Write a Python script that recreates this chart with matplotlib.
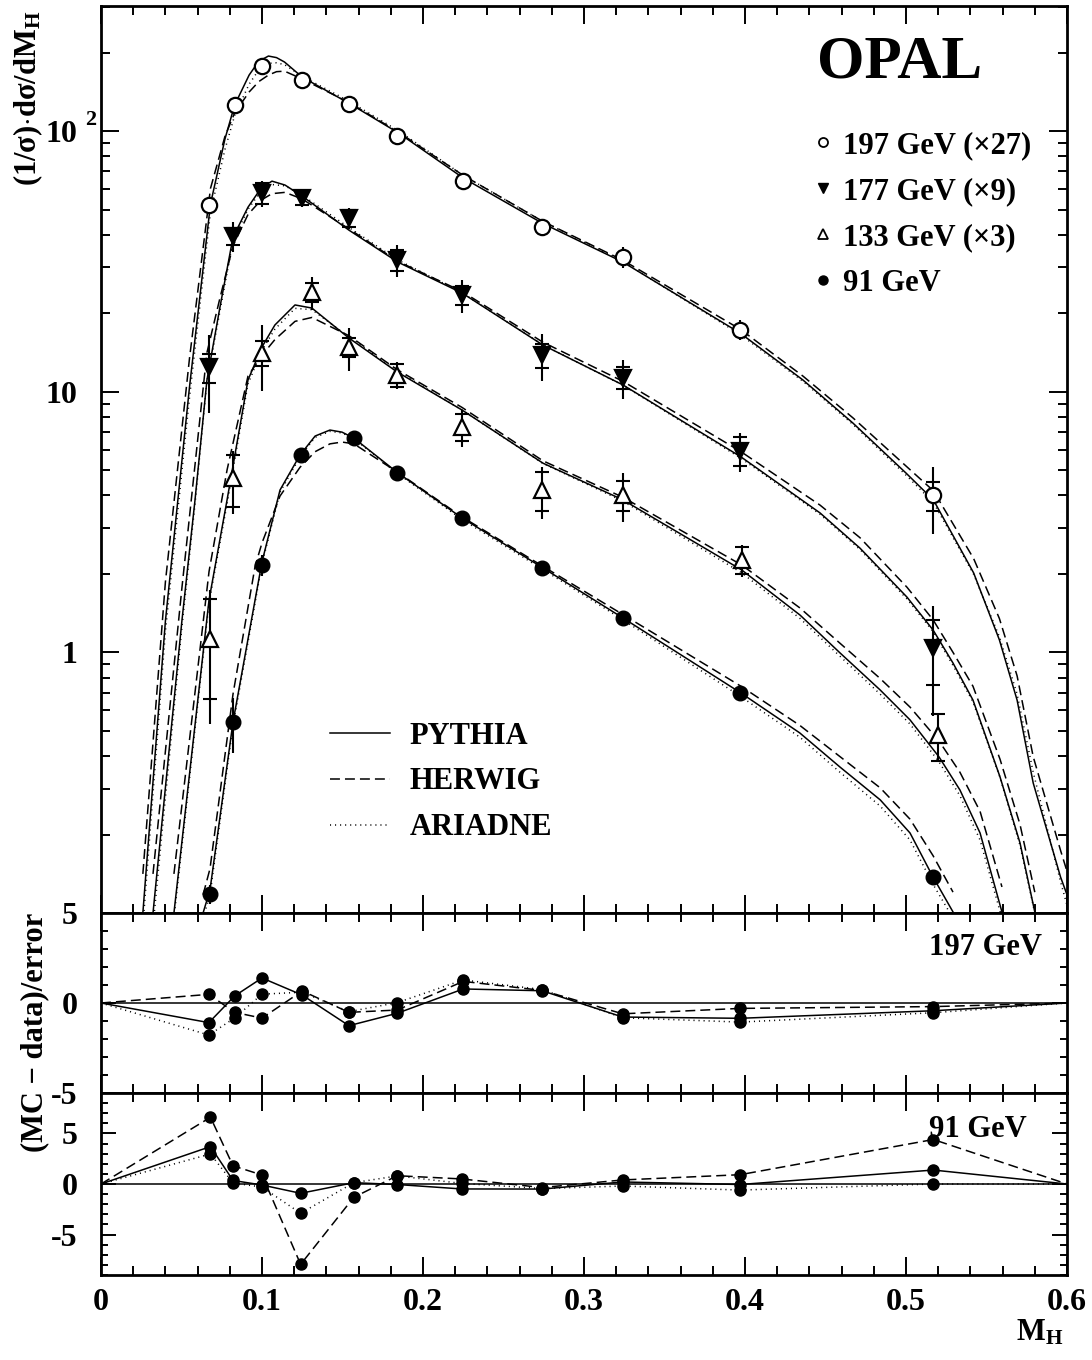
import numpy as np
import matplotlib
matplotlib.use("Agg")
import matplotlib.pyplot as plt
from matplotlib.lines import Line2D
from matplotlib.ticker import FixedLocator, FixedFormatter, MultipleLocator, LogLocator, NullFormatter

plt.rcParams.update({
    "font.family": "Liberation Serif",
    "font.weight": "bold",
    "mathtext.fontset": "custom",
    "mathtext.rm": "Liberation Serif:bold",
    "mathtext.bf": "Liberation Serif:bold",
    "mathtext.it": "Liberation Serif:italic:bold",
    "axes.linewidth": 2.0,
})

# ---- measured points (x = bin mean of M_H), scaled values as plotted ----
x197 = [0.067, 0.083, 0.100, 0.125, 0.154, 0.184, 0.225, 0.274, 0.324, 0.397, 0.517]
y197 = [52, 126, 177, 157, 127, 95.7, 64.3, 42.8, 32.9, 17.3, 4.0]
tot197 = [2.5, 5, 7, 6, 5, 4, 3, 2.5, 3.0, 1.5, 1.15]
stat197 = [1.5, 3, 4, 3, 2.5, 2, 1.5, 1.2, 1.0, 0.5, 0.52]

x177 = [0.067, 0.082, 0.100, 0.125, 0.154, 0.184, 0.224, 0.274, 0.324, 0.397, 0.517]
y177 = [12.4, 39.5, 57.8, 55.3, 46.4, 32.0, 23.5, 13.8, 11.3, 5.93, 1.04]
tot177 = [4.1, 5.2, 6.5, 4.0, 4.2, 4.4, 3.4, 2.8, 1.9, 1.0, 0.47]
stat177 = [1.6, 2.9, 5.5, 3.3, 3.6, 3.0, 1.9, 1.5, 1.1, 0.75, 0.29]

x133 = [0.068, 0.082, 0.100, 0.131, 0.154, 0.184, 0.224, 0.274, 0.324, 0.398, 0.520]
y133 = [1.13, 4.67, 14.1, 24.1, 14.8, 11.6, 7.33, 4.2, 4.02, 2.26, 0.482]
tot133 = [0.6, 1.26, 4.0, 3.5, 2.8, 1.4, 1.17, 0.95, 0.86, 0.32, 0.1]
stat133 = [0.47, 1.05, 1.6, 2.0, 1.25, 1.2, 0.85, 0.7, 0.54, 0.27, 0.1]

x91 = [0.068, 0.082, 0.100, 0.124, 0.157, 0.184, 0.224, 0.274, 0.324, 0.397, 0.517]
y91 = [0.118, 0.541, 2.16, 5.72, 6.64, 4.87, 3.28, 2.11, 1.36, 0.698, 0.137]
tot91 = [0.01, 0.13, 0.2, 0.15, 0.1, 0.08, 0.05, 0.03, 0.02, 0.01, 0.006]

# ---- MC predictions, log10 of the scaled value ----
mc197_x = [0.026, 0.040, 0.055, 0.068, 0.077, 0.083, 0.092, 0.098, 0.104, 0.109, 0.114, 0.125, 0.154, 0.185, 0.225,
           0.274, 0.324, 0.397, 0.436, 0.467, 0.500, 0.517, 0.542, 0.558, 0.569, 0.579, 0.596, 0.600]
py197 = [-1.00, 0.12, 1.02, 1.72, 1.97, 2.10, 2.215, 2.268, 2.288, 2.282, 2.265, 2.207, 2.107, 1.992, 1.820,
         1.647, 1.498, 1.225, 1.045, 0.880, 0.688, 0.585, 0.305, 0.048, -0.183, -0.501, -0.862, -0.93]
hw197 = [-0.85, 0.27, 1.13, 1.78, 1.98, 2.07, 2.15, 2.19, 2.215, 2.228, 2.23, 2.20, 2.11, 1.995, 1.83,
         1.655, 1.505, 1.24, 1.06, 0.90, 0.715, 0.62, 0.36, 0.13, -0.09, -0.40, -0.76, -0.84]
ar197 = [-1.05, 0.08, 0.98, 1.69, 1.93, 2.06, 2.18, 2.235, 2.26, 2.262, 2.255, 2.21, 2.115, 2.0, 1.83,
         1.655, 1.50, 1.22, 1.04, 0.875, 0.68, 0.575, 0.30, 0.06, -0.16, -0.46, -0.88, -0.97]

mc177_x = [0.0323, 0.0503, 0.0584, 0.0658, 0.0739, 0.082, 0.0913, 0.0994, 0.1062, 0.1143, 0.1248, 0.154, 0.1845,
           0.2242, 0.2745, 0.3242, 0.3975, 0.4466, 0.4714, 0.5006, 0.5168, 0.5292, 0.5416, 0.5584, 0.5708, 0.580]
py177 = [-1.0, 0.124, 0.585, 1.045, 1.325, 1.593, 1.708, 1.781, 1.808, 1.793, 1.751, 1.620, 1.497,
         1.379, 1.179, 1.026, 0.750, 0.535, 0.400, 0.212, 0.086, -0.041, -0.183, -0.478, -0.731, -0.996]
hw177 = [-0.85, 0.25, 0.72, 1.15, 1.36, 1.56, 1.68, 1.735, 1.76, 1.765, 1.74, 1.625, 1.50,
         1.385, 1.19, 1.04, 0.77, 0.565, 0.44, 0.25, 0.125, 0.0, -0.13, -0.41, -0.66, -0.92]
ar177 = [-1.05, 0.10, 0.57, 1.04, 1.31, 1.58, 1.70, 1.77, 1.795, 1.79, 1.755, 1.63, 1.505,
         1.38, 1.18, 1.025, 0.745, 0.53, 0.395, 0.205, 0.08, -0.05, -0.19, -0.48, -0.74, -1.0]

mc133_x = [0.0453, 0.0671, 0.0783, 0.0913, 0.1, 0.108, 0.1205, 0.131, 0.154, 0.1839, 0.2242,
           0.2745, 0.3242, 0.398, 0.4342, 0.459, 0.4839, 0.5025, 0.5205, 0.5335, 0.546, 0.5596]
py133 = [-1.0, 0.201, 0.585, 1.045, 1.172, 1.256, 1.333, 1.321, 1.206, 1.076, 0.930,
         0.726, 0.585, 0.316, 0.143, -0.002, -0.144, -0.259, -0.401, -0.528, -0.693, -0.996]
hw133 = [-0.85, 0.31, 0.70, 1.06, 1.14, 1.20, 1.27, 1.285, 1.215, 1.085, 0.94,
         0.735, 0.595, 0.335, 0.17, 0.035, -0.10, -0.21, -0.34, -0.46, -0.61, -0.90]
ar133 = [-1.02, 0.19, 0.57, 1.03, 1.16, 1.24, 1.32, 1.315, 1.21, 1.08, 0.93,
         0.725, 0.58, 0.305, 0.13, -0.015, -0.16, -0.275, -0.42, -0.55, -0.72, -1.02]

mc91_x = [0.0634, 0.0677, 0.082, 0.0957, 0.1, 0.1112, 0.1236, 0.133, 0.1422, 0.1497, 0.1571,
          0.1845, 0.2242, 0.2745, 0.3242, 0.3975, 0.434, 0.459, 0.484, 0.5025, 0.5168, 0.5292]
py91 = [-1.0, -0.911, -0.267, 0.201, 0.347, 0.623, 0.757, 0.830, 0.853, 0.845, 0.822,
        0.688, 0.516, 0.324, 0.132, -0.156, -0.309, -0.44, -0.566, -0.693, -0.862, -0.996]
hw91 = [-0.93, -0.83, -0.16, 0.33, 0.42, 0.60, 0.71, 0.77, 0.80, 0.807, 0.80,
        0.69, 0.52, 0.33, 0.145, -0.13, -0.28, -0.40, -0.52, -0.64, -0.78, -0.92]
ar91 = [-1.02, -0.93, -0.28, 0.19, 0.34, 0.615, 0.75, 0.825, 0.848, 0.842, 0.82,
        0.685, 0.51, 0.318, 0.125, -0.17, -0.325, -0.46, -0.59, -0.72, -0.89, -1.02]

# ---- (MC - data)/error ----
r197_x = [0, 0.067, 0.083, 0.100, 0.125, 0.154, 0.184, 0.225, 0.274, 0.324, 0.397, 0.517, 0.6]
r197_py = [0, -1.09, 0.39, 1.39, 0.44, -1.26, -0.57, 0.78, 0.68, -0.78, -0.85, -0.43, 0]
r197_hw = [0, 0.48, -0.52, -0.84, 0.67, -0.52, -0.39, 1.2, 0.70, -0.6, -0.3, -0.2, 0]
r197_ar = [0, -1.78, -0.83, 0.49, 0.6, -0.48, 0.02, 1.28, 0.75, -0.82, -1.06, -0.54, 0]

r91_x = [0, 0.068, 0.082, 0.100, 0.124, 0.157, 0.184, 0.224, 0.274, 0.324, 0.397, 0.517, 0.6]
r91_py = [0, 3.7, 0.35, -0.1, -0.92, 0.13, -0.05, -0.49, -0.5, 0.2, -0.05, 1.38, 0]
r91_hw = [0, 6.6, 1.8, 0.89, -7.95, -1.32, 0.82, 0.5, -0.35, 0.4, 0.92, 4.4, 0]
r91_ar = [0, 2.97, 0.1, -0.3, -2.9, 0.13, 0.8, 0.06, -0.45, -0.2, -0.6, 0.0, 0]

LS = {"PYTHIA": "-", "HERWIG": (0, (6.5, 3.3)), "ARIADNE": (0, (0.7, 2.6))}
LW = 1.1
FS = 22

fig = plt.figure(figsize=(10.92, 13.6), dpi=100)
L0, W0 = 101 / 1092, 966 / 1092
ax = fig.add_axes([L0, 1 - 913 / 1360, W0, 907 / 1360])
axm = fig.add_axes([L0, 1 - 1093 / 1360, W0, 180 / 1360])
axb = fig.add_axes([L0, 1 - 1275 / 1360, W0, 182 / 1360])

# MC curves
for xs, py, hw, ar in [(mc197_x, py197, hw197, ar197), (mc177_x, py177, hw177, ar177),
                       (mc133_x, py133, hw133, ar133), (mc91_x, py91, hw91, ar91)]:
    ax.plot(xs, 10 ** np.array(py), color="k", lw=LW, ls=LS["PYTHIA"], zorder=2)
    ax.plot(xs, 10 ** np.array(hw), color="k", lw=LW, ls=LS["HERWIG"], zorder=2)
    ax.plot(xs, 10 ** np.array(ar), color="k", lw=LW, ls=LS["ARIADNE"], zorder=2)

# data: total error bar, stat error marked by short ticks
for xs, ys, tot, stat, mk, fc, ms in [
        (x197, y197, tot197, stat197, "o", "white", 11),
        (x177, y177, tot177, stat177, "v", "black", 11),
        (x133, y133, tot133, stat133, "^", "white", 11)]:
    ax.errorbar(xs, ys, yerr=tot, fmt="none", ecolor="k", elinewidth=1.5, capsize=0, zorder=3)
    ax.errorbar(xs, ys, yerr=stat, fmt="none", ecolor="k", elinewidth=0, capsize=5, capthick=1.5, zorder=3)
    ax.plot(xs, ys, ls="none", marker=mk, mfc=fc, mec="k", mew=1.6, ms=ms, zorder=4)
ax.errorbar(x91, y91, yerr=tot91, fmt="none", ecolor="k", elinewidth=1.5, capsize=0, zorder=3)
ax.plot(x91, y91, ls="none", marker="o", mfc="k", mec="k", ms=10.5, zorder=4)

ax.set_yscale("log")
ax.set_ylim(0.1, 302)
ax.yaxis.set_major_locator(FixedLocator([0.1, 1, 10, 100]))
ax.yaxis.set_major_formatter(FixedFormatter(["", "1", "10", "10"]))
ax.yaxis.set_minor_locator(LogLocator(base=10, subs=np.arange(2, 10)))
ax.yaxis.set_minor_formatter(NullFormatter())
# exponent of the 10^2 label sits outside the label column, as in the original
ax.annotate("2", xy=(0, 100), xycoords=("axes fraction", "data"), xytext=(-16, 1),
            textcoords="offset pixels", ha="left", va="bottom", fontsize=16)

# ratio panels
for a, rx, rp, rh, rr in [(axm, r197_x, r197_py, r197_hw, r197_ar),
                          (axb, r91_x, r91_py, r91_hw, r91_ar)]:
    a.axhline(0, color="k", lw=1.1, zorder=1)
    for ry, key in [(rp, "PYTHIA"), (rh, "HERWIG"), (rr, "ARIADNE")]:
        a.plot(rx, ry, color="k", lw=LW, ls=LS[key], zorder=2)
        a.plot(rx[1:-1], ry[1:-1], ls="none", marker="o", color="k", ms=8, zorder=3)
    a.yaxis.set_major_locator(FixedLocator([-5, 0, 5]))
    a.yaxis.set_major_formatter(FixedFormatter(["-5", "0", "5"]))
    a.yaxis.set_minor_locator(MultipleLocator(1))
axm.set_ylim(-5, 5)
axb.set_ylim(-9, 9)

axm.text(0.974, 0.806, "197 GeV", transform=axm.transAxes, ha="right", va="center", fontsize=FS)
axb.text(0.958, 0.797, "91 GeV", transform=axb.transAxes, ha="right", va="center", fontsize=FS)

for a in (ax, axm, axb):
    a.set_xlim(0, 0.6)
    a.xaxis.set_major_locator(MultipleLocator(0.1))
    a.xaxis.set_minor_locator(MultipleLocator(0.02))
    a.tick_params(which="both", direction="in", top=True, right=True, width=1.4,
                  labelsize=23, pad=9)
    a.tick_params(axis="y", which="both", pad=17)
    a.tick_params(which="major", length=13)
    a.tick_params(which="minor", length=6.5)
    for s in a.spines.values():
        s.set_linewidth(2.0)
for a in (axm, axb):
    a.tick_params(axis="y", which="major", length=11)
    a.tick_params(axis="y", which="minor", length=5)
for a in (ax, axm):
    a.tick_params(labelbottom=False)
axb.xaxis.set_major_locator(FixedLocator([0, 0.1, 0.2, 0.3, 0.4, 0.5, 0.6]))
axb.xaxis.set_major_formatter(FixedFormatter(["0", "0.1", "0.2", "0.3", "0.4", "0.5", "0.6"]))

# legends
ax.text(0.827, 0.938, "OPAL", transform=ax.transAxes, ha="center", va="center", fontsize=44)
h_data = [Line2D([], [], ls="none", marker="o", mfc="white", mec="k", mew=1.3, ms=6.5),
          Line2D([], [], ls="none", marker="v", mfc="k", mec="k", ms=6.5),
          Line2D([], [], ls="none", marker="^", mfc="white", mec="k", mew=1.3, ms=6.5),
          Line2D([], [], ls="none", marker="o", mfc="k", mec="k", ms=6.5)]
leg1 = ax.legend(h_data, ["197 GeV (\u00d727)", "177 GeV (\u00d79)", "133 GeV (\u00d73)", "91 GeV"],
                 loc="upper left", bbox_to_anchor=(0.738, 0.862), frameon=False,
                 prop={"weight": "bold", "size": FS}, handlelength=0.6, handletextpad=0.35,
                 labelspacing=0.55, borderpad=0, borderaxespad=0)
ax.add_artist(leg1)
h_mc = [Line2D([], [], color="k", lw=LW, ls=LS[k]) for k in ("PYTHIA", "HERWIG", "ARIADNE")]
ax.legend(h_mc, ["PYTHIA", "HERWIG", "ARIADNE"], loc="upper left", bbox_to_anchor=(0.237, 0.211),
          frameon=False, prop={"weight": "bold", "size": FS}, handlelength=1.95, handletextpad=0.65,
          labelspacing=0.55, borderpad=0, borderaxespad=0)

fig.text(28 / 1092, 1 - 98 / 1360, r"(1/σ)$\cdot$dσ/dM$_{\mathrm{H}}$", rotation=90,
         ha="center", va="center", fontsize=FS)
fig.text(35 / 1092, 1 - 1032 / 1360, "(MC \u2212 data)/error", rotation=90,
         ha="center", va="center", fontsize=FS)
fig.text(1040 / 1092, 1 - 1333 / 1360, r"M$_{\mathrm{H}}$", ha="center", va="center", fontsize=FS)

fig.savefig("out.png", dpi=100)
